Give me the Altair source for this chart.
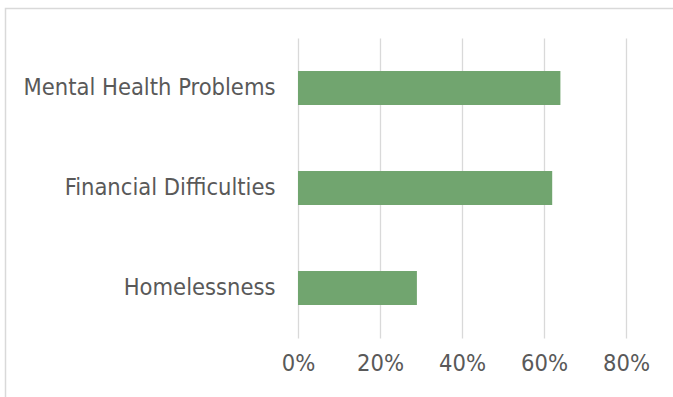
import altair as alt
import pandas as pd

categories = ["Mental Health Problems", "Financial Difficulties", "Homelessness"]
values = [0.64, 0.62, 0.29]
tick_values = [0.0, 0.2, 0.4, 0.6, 0.8]

df = pd.DataFrame({"category": categories, "value": values})

FONT = "DejaVu Sans Condensed"
TEXT = "#595959"

bars = alt.Chart(df).mark_bar(color="#71A56F").encode(
    x=alt.X(
        "value:Q",
        scale=alt.Scale(domain=[0, 0.8], nice=False),
        axis=alt.Axis(
            values=tick_values,
            format=".0%",
            title=None,
            domain=False,
            ticks=False,
            grid=True,
            gridColor="#D9D9D9",
            gridWidth=1.3,
            labelFont=FONT,
            labelFontSize=23.5,
            labelColor=TEXT,
            labelPadding=13,
            labelFlush=False,
            labelOverlap=False,
            labelBound=False,
        ),
    ),
    y=alt.Y(
        "category:N",
        sort=categories,
        scale=alt.Scale(paddingInner=0.66, paddingOuter=0.33),
        axis=alt.Axis(
            title=None,
            domain=False,
            ticks=False,
            grid=False,
            labelFont=FONT,
            labelFontSize=23.5,
            labelColor=TEXT,
            labelPadding=23,
            labelLimit=400,
        ),
    ),
)

border = alt.Chart(pd.DataFrame({"a": [0]})).mark_rect(
    filled=False, stroke="#D9D9D9", strokeWidth=1.5, clip=False
).encode(
    x=alt.value(-292.5),
    x2=alt.value(400),
    y=alt.value(-29.5),
    y2=alt.value(420),
)

chart = (
    alt.layer(border, bars)
    .properties(
        width=328,
        height=300,
        autosize=alt.AutoSizeParams(type="none"),
        padding={"left": 298, "top": 38, "right": 47, "bottom": 59},
    )
    .configure(background="white")
    .configure_view(strokeWidth=0, stroke=None)
)

chart.save("out.html", embed_options={"renderer": "svg", "actions": False})
